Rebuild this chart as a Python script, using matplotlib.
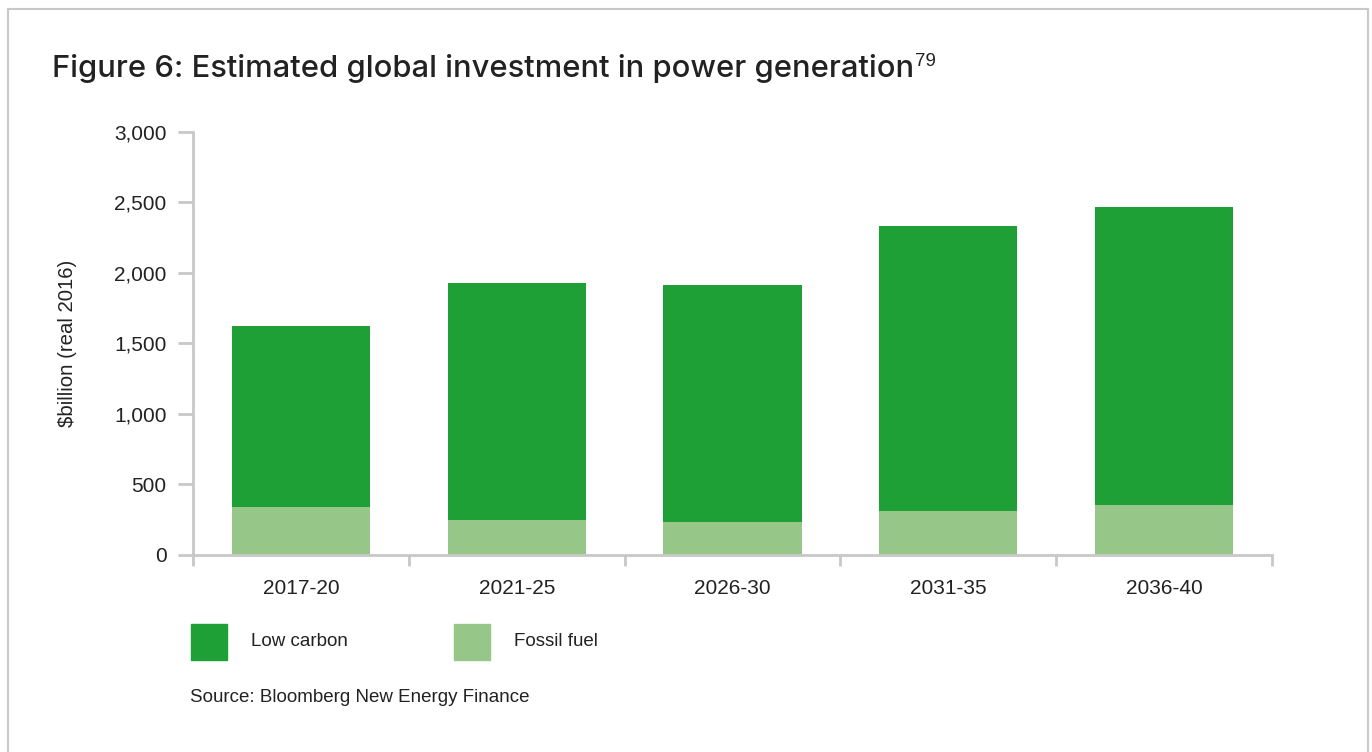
import matplotlib
matplotlib.use("Agg")
import matplotlib.pyplot as plt
from matplotlib.patches import Rectangle
import numpy as np

plt.rcParams['font.family'] = ['Liberation Sans', 'DejaVu Sans']

categories = ["2017-20", "2021-25", "2026-30", "2031-35", "2036-40"]
fossil_fuel = [341, 249, 233, 311, 355]
low_carbon = [1280, 1677, 1680, 2018, 2114]
yticks = [0, 500, 1000, 1500, 2000, 2500, 3000]
ytick_labels = ["0", "500", "1,000", "1,500", "2,000", "2,500", "3,000"]

dark = '#1EA037'
light = '#96C688'
grey = '#C8C8C8'
txt = '#222222'

W, H = 1372, 752
fig = plt.figure(figsize=(W / 100, H / 100), dpi=100)

def fx(px):
    return px / W

def fy(py):
    return 1 - py / H

# outer frame
fig.patches.append(Rectangle((fx(8), fy(800)), fx(1368) - fx(8), fy(9) - fy(800),
                             transform=fig.transFigure, fill=False,
                             edgecolor=grey, linewidth=1.5, clip_on=False))

ax = fig.add_axes([fx(193), fy(555), fx(1272) - fx(193), fy(131.7) - fy(555)])
x = np.arange(len(categories))
ax.bar(x, fossil_fuel, width=0.64, color=light, label="Fossil fuel", zorder=2)
ax.bar(x, low_carbon, width=0.64, bottom=fossil_fuel, color=dark, label="Low carbon", zorder=2)

ax.set_xlim(-0.5, len(categories) - 0.5)
ax.set_ylim(0, 3000)
ax.set_yticks(yticks)
ax.set_yticklabels(ytick_labels)
ax.set_xticks(x)
ax.set_xticklabels(categories)
ax.set_xticks(np.arange(len(categories) + 1) - 0.5, minor=True)
ax.tick_params(axis='x', which='major', length=0, pad=17, labelsize=15, labelcolor=txt)
ax.tick_params(axis='x', which='minor', length=8, width=2, color=grey, direction='out')
ax.tick_params(axis='y', which='major', length=11, width=2, color=grey, pad=8,
               labelsize=15, labelcolor=txt)
for s in ['top', 'right']:
    ax.spines[s].set_visible(False)
for s in ['left', 'bottom']:
    ax.spines[s].set_color(grey)
    ax.spines[s].set_linewidth(2)
ax.set_ylabel("$billion (real 2016)", fontsize=14.7, color=txt, labelpad=26.5)

# title with superscript, fitted to the reference width
title_str = "Figure 6: Estimated global investment in power generation"
title = fig.text(fx(52), fy(77), title_str, fontsize=20, color=txt, ha='left',
                 va='baseline', family='Inter', weight='medium')
fig.canvas.draw()
bb = title.get_window_extent()
title.set_fontsize(20 * 860 / bb.width)
fig.canvas.draw()
bb = title.get_window_extent()
fig.text(bb.x1 / W + fx(1), fy(66), "79", fontsize=13.5, color=txt, ha='left', va='baseline')

# legend
fig.patches.append(Rectangle((fx(191), fy(660)), fx(36), fy(624) - fy(660),
                             transform=fig.transFigure, color=dark))
fig.text(fx(251), fy(641), "Low carbon", fontsize=13.5, color=txt, ha='left', va='center')
fig.patches.append(Rectangle((fx(454), fy(660)), fx(36), fy(624) - fy(660),
                             transform=fig.transFigure, color=light))
fig.text(fx(514), fy(641), "Fossil fuel", fontsize=13.5, color=txt, ha='left', va='center')

fig.text(fx(190), fy(697), "Source: Bloomberg New Energy Finance", fontsize=13.5,
         color=txt, ha='left', va='center')

fig.savefig("out.png", dpi=100, facecolor='white')
